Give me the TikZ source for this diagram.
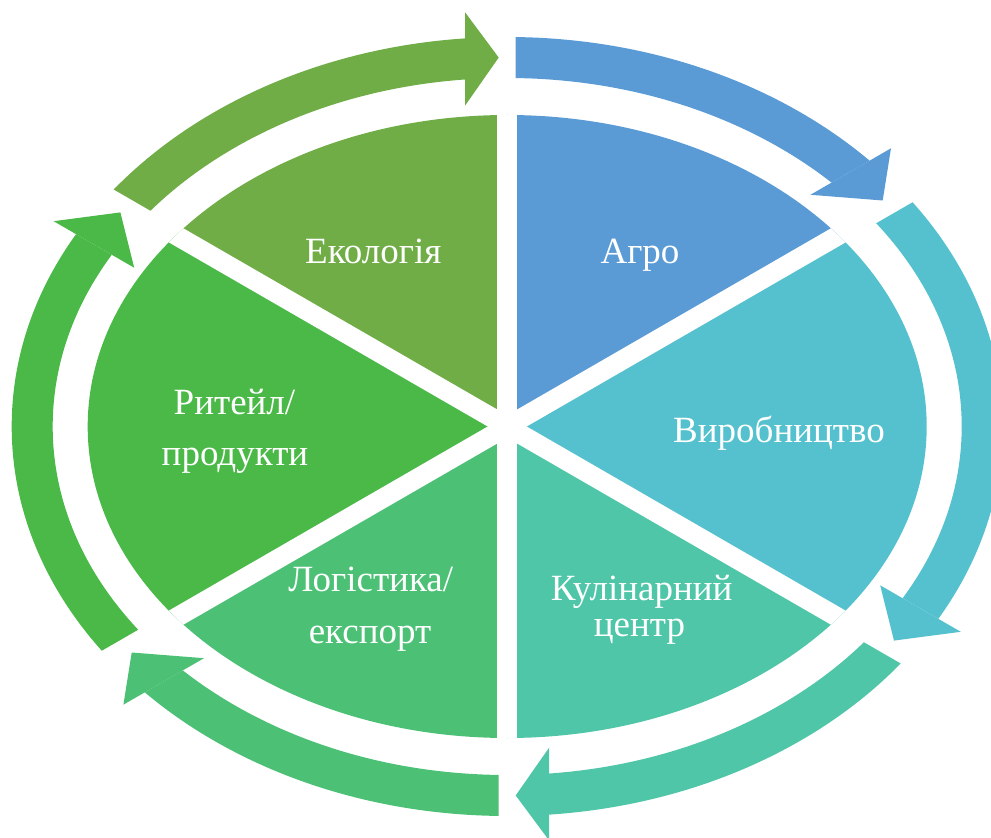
\documentclass[tikz,border=0pt]{standalone}
\usepackage{fontspec}
\setmainfont{Liberation Serif}
\usetikzlibrary{calc}
\definecolor{cAgro}{HTML}{5B9BD5}
\definecolor{cVyr}{HTML}{55C1CF}
\definecolor{cKul}{HTML}{4FC6A7}
\definecolor{cLog}{HTML}{4CC176}
\definecolor{cRet}{HTML}{4AB948}
\definecolor{cEko}{HTML}{70AD47}
\begin{document}
\begin{tikzpicture}[x=1pt,y=1pt,
  lbl/.style={text=white,font=\fontsize{37}{44}\selectfont,anchor=base,inner sep=0pt},
  ring/.style={line width=41pt}]
\useasboundingbox (-507.2,-411.5) rectangle (483.8,426.5);

% ---------- sectors ----------
\begin{scope}
  \clip (0,0) ellipse [x radius=419.5, y radius=311.5];
  \fill[cAgro] (0,0) -- (90:1000) -- (30:1000) -- cycle;
  \fill[cVyr]  (0,0) -- (30:1000) -- (-30:1000) -- cycle;
  \fill[cKul]  (0,0) -- (-30:1000) -- (-90:1000) -- cycle;
  \fill[cLog]  (0,0) -- (-90:1000) -- (-150:1000) -- cycle;
  \fill[cRet]  (0,0) -- (-150:1000) -- (150:1000) -- cycle;
  \fill[cEko]  (0,0) -- (150:1000) -- (90:1000) -- cycle;
  \draw[white,line width=19.5pt] (90:1000) -- (270:1000);
  \draw[white,line width=19.5pt] (30:1000) -- (210:1000);
  \draw[white,line width=19.5pt] (150:1000) -- (-30:1000);
\end{scope}

% ---------- arrows ----------
% #1 tail angle, #2 head angle, #3 barb offset, #4 colour
\newcommand{\arrowbody}[4]{%
  \begin{scope}
    \clip ($(#1:900)+(#1-90:8.5)$) -- ($(#1-90:8.5)$) -- ($(#2+90:#3)$)
          -- ($(#2:900)+(#2+90:#3)$) -- (#1-30:1800) -- cycle;
    \draw[ring,#4] (0,0) ellipse [x radius=475, y radius=369];
  \end{scope}}

\arrowbody{90}{30}{49}{cAgro}
\fill[cAgro] (383.8,278.2) -- (375.5,226.0) -- (303.2,231.7) -- cycle;

\arrowbody{30}{-30}{49}{cVyr}
\fill[cVyr] (453.6,-205.3) -- (386.8,-214.1) -- (373.0,-158.8) -- cycle;

\arrowbody{-30}{-90}{42}{cKul}
\fill[cKul] (42,-414.05) -- (8.5,-368.94) -- (42,-321.05) -- cycle;

\arrowbody{-90}{-150}{49}{cLog}
\fill[cLog] (-383.8,-278.2) -- (-375.5,-226.0) -- (-303.2,-231.7) -- cycle;

\arrowbody{210}{150}{49}{cRet}
\fill[cRet] (-453.6,205.3) -- (-386.8,214.1) -- (-373.0,158.8) -- cycle;

\arrowbody{150}{90}{42}{cEko}
\fill[cEko] (-42,414.05) -- (-8.5,368.94) -- (-42,321.05) -- cycle;

% ---------- labels ----------
\node[lbl] (eko) at (-133.9,163.2) {Екологія};
\node[lbl] (agro) at (132.8,163.2) {Агро};
\node[lbl] (vyr) at (271.8,-15.5) {Виробництво};
\node[lbl] (kul1) at (134.5,-173.5) {Кулінарний};
\node[lbl] (kul2) at (132.3,-209.5) {центр};
\node[lbl] (log1) at (-136.4,-165.2) {Логістика/};
\node[lbl] (log2) at (-137.2,-216.8) {експорт};
\node[lbl] (ret1) at (-272.7,12.2) {Ритейл/};
\node[lbl] (ret2) at (-272.2,-39.2) {продукти};
\end{tikzpicture}
\end{document}
